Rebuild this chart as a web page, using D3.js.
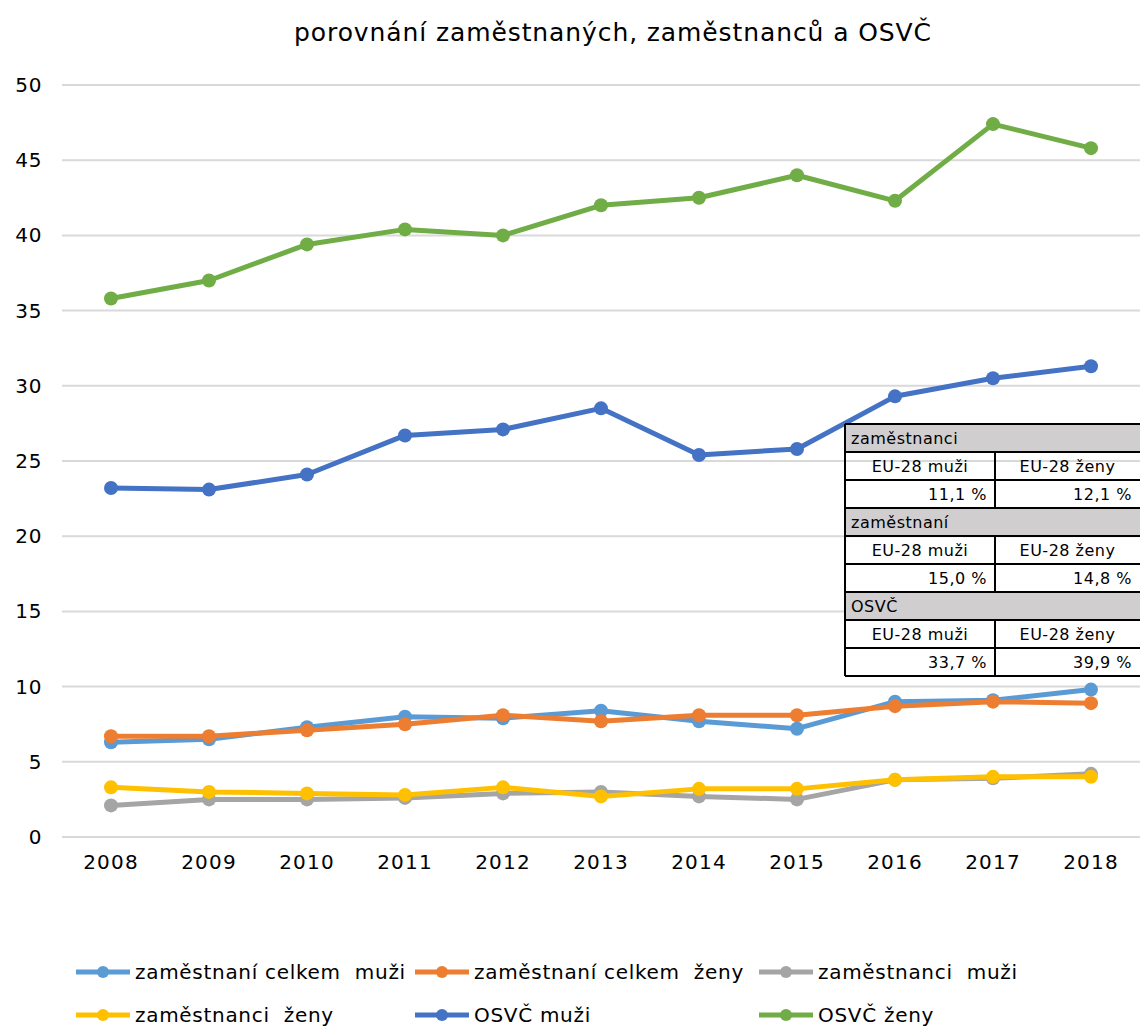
<!DOCTYPE html>
<html>
<head>
<meta charset="utf-8">
<script src="https://cdn.jsdelivr.net/npm/d3@7"></script>
<style>
  body { margin: 0; background: #fff; }
  text { font-family: "DejaVu Sans", Verdana, sans-serif; fill: #000; }
</style>
</head>
<body>
<div class="canvas"></div>
<script>
const dims = { width: 1140, height: 1026 };
const margin = { top: 85, right: 0, bottom: 189, left: 62 };

// data
const years = ['2008', '2009', '2010', '2011', '2012', '2013', '2014', '2015', '2016', '2017', '2018'];
const celkemMuzi = [6.3, 6.5, 7.3, 8.0, 7.9, 8.4, 7.7, 7.2, 9.0, 9.1, 9.8];
const celkemZeny = [6.7, 6.7, 7.1, 7.5, 8.1, 7.7, 8.1, 8.1, 8.7, 9.0, 8.9];
const zamMuzi = [2.1, 2.5, 2.5, 2.6, 2.9, 3.0, 2.7, 2.5, 3.8, 3.9, 4.2];
const zamZeny = [3.3, 3.0, 2.9, 2.8, 3.3, 2.7, 3.2, 3.2, 3.8, 4.0, 4.0];
const osvcMuzi = [23.2, 23.1, 24.1, 26.7, 27.1, 28.5, 25.4, 25.8, 29.3, 30.5, 31.3];
const osvcZeny = [35.8, 37.0, 39.4, 40.4, 40.0, 42.0, 42.5, 44.0, 42.3, 47.4, 45.8];
const yTicks = [0, 5, 10, 15, 20, 25, 30, 35, 40, 45, 50];

const series = [
  { name: 'zaměstnaní celkem  muži', values: celkemMuzi, colour: '#5B9BD5' },
  { name: 'zaměstnaní celkem  ženy', values: celkemZeny, colour: '#ED7D31' },
  { name: 'zaměstnanci  muži', values: zamMuzi, colour: '#A5A5A5' },
  { name: 'zaměstnanci  ženy', values: zamZeny, colour: '#FFC000' },
  { name: 'OSVČ muži', values: osvcMuzi, colour: '#4472C4' },
  { name: 'OSVČ ženy', values: osvcZeny, colour: '#70AD47' }
];

// table in the chart
const tableGroups = ['zaměstnanci', 'zaměstnaní', 'OSVČ'];
const tableCols = ['EU-28 muži', 'EU-28 ženy'];
const tableMuzi = ['11,1 %', '15,0 %', '33,7 %'];
const tableZeny = ['12,1 %', '14,8 %', '39,9 %'];

const svg = d3.select('.canvas')
  .append('svg')
  .attr('width', dims.width)
  .attr('height', dims.height);

const innerW = dims.width - margin.left - margin.right;
const innerH = dims.height - margin.top - margin.bottom;

const x = d3.scaleBand()
  .domain(years)
  .range([margin.left, margin.left + innerW]);

const y = d3.scaleLinear()
  .domain([0, 50])
  .range([margin.top + innerH, margin.top]);

// title
svg.append('text')
  .attr('x', 613)
  .attr('y', 41)
  .attr('text-anchor', 'middle')
  .style('font-size', '25px')
  .style('letter-spacing', '0.9px')
  .text('porovnání zaměstnaných, zaměstnanců a OSVČ');

// gridlines
svg.append('g')
  .selectAll('line')
  .data(yTicks)
  .enter().append('line')
    .attr('x1', margin.left)
    .attr('x2', margin.left + innerW)
    .attr('y1', d => y(d))
    .attr('y2', d => y(d))
    .attr('stroke', '#d9d9d9')
    .attr('stroke-width', 2);

// y axis
const yAxis = d3.axisLeft(y).tickValues(yTicks).tickSize(0).tickPadding(20);
const yG = svg.append('g')
  .attr('transform', `translate(${margin.left}, 0)`)
  .call(yAxis);
yG.select('.domain').remove();
yG.selectAll('text').style('font-size', '20px').style('letter-spacing', '0.6px').attr('fill', '#000');

// x axis
const xAxis = d3.axisBottom(x).tickSize(0).tickPadding(18);
const xG = svg.append('g')
  .attr('transform', `translate(0, ${margin.top + innerH})`)
  .call(xAxis);
xG.select('.domain').remove();
xG.selectAll('text').style('font-size', '20px').style('letter-spacing', '1.2px').attr('fill', '#000');

const cx = (d, i) => x(years[i]) + x.bandwidth() / 2;

const line = d3.line()
  .x((d, i) => cx(d, i))
  .y(d => y(d));

// lines + markers
series.forEach(s => {
  const g = svg.append('g');
  g.append('path')
    .attr('d', line(s.values))
    .attr('fill', 'none')
    .attr('stroke', s.colour)
    .attr('stroke-width', 5)
    .attr('stroke-linejoin', 'round');
  g.selectAll('circle')
    .data(s.values)
    .enter().append('circle')
      .attr('cx', cx)
      .attr('cy', d => y(d))
      .attr('r', 7)
      .attr('fill', s.colour);
});

// table
const tbl = { x: 845, y: 424, w: 295, mid: 995, rh: 28 };
const cellFont = '16px';
let ty = tbl.y;
const tg = svg.append('g');
const cellText = (xx, yy, anchor, txt) => tg.append('text')
  .attr('x', xx).attr('y', yy)
  .attr('text-anchor', anchor)
  .style('font-size', cellFont)
  .style('letter-spacing', '0.5px')
  .text(txt);

tableGroups.forEach((grp, i) => {
  // header row
  tg.append('rect')
    .attr('x', tbl.x).attr('y', ty)
    .attr('width', tbl.w).attr('height', tbl.rh)
    .attr('fill', '#D0CECE');
  cellText(tbl.x + 6, ty + 20, 'start', grp);
  // column header row
  const r1 = ty + tbl.rh;
  tableCols.forEach((c, j) => {
    const x0 = j === 0 ? tbl.x : tbl.mid;
    const x1 = j === 0 ? tbl.mid : tbl.x + tbl.w;
    cellText((x0 + x1) / 2, r1 + 20, 'middle', c);
  });
  const r2 = r1 + tbl.rh;
  cellText(tbl.mid - 8, r2 + 20, 'end', tableMuzi[i]);
  cellText(tbl.x + tbl.w - 8, r2 + 20, 'end', tableZeny[i]);
  // borders
  [ty, r1, r2].forEach(yy => {
    tg.append('line')
      .attr('x1', tbl.x).attr('x2', tbl.x + tbl.w)
      .attr('y1', yy).attr('y2', yy)
      .attr('stroke', '#000').attr('stroke-width', 2);
  });
  tg.append('line')
    .attr('x1', tbl.mid).attr('x2', tbl.mid)
    .attr('y1', r1).attr('y2', r2 + tbl.rh)
    .attr('stroke', '#000').attr('stroke-width', 2);
  ty = r2 + tbl.rh;
});
tg.append('line')
  .attr('x1', tbl.x).attr('x2', tbl.x + tbl.w)
  .attr('y1', ty).attr('y2', ty)
  .attr('stroke', '#000').attr('stroke-width', 2);
tg.append('line')
  .attr('x1', tbl.x).attr('x2', tbl.x)
  .attr('y1', tbl.y).attr('y2', ty)
  .attr('stroke', '#000').attr('stroke-width', 2);

// legend
const legendPos = [
  { x: 76, y: 972 }, { x: 415, y: 972 }, { x: 759, y: 972 },
  { x: 76, y: 1015 }, { x: 415, y: 1015 }, { x: 759, y: 1015 }
];
const lg = svg.append('g');
series.forEach((s, i) => {
  const p = legendPos[i];
  lg.append('line')
    .attr('x1', p.x).attr('x2', p.x + 54)
    .attr('y1', p.y).attr('y2', p.y)
    .attr('stroke', s.colour).attr('stroke-width', 5);
  lg.append('circle')
    .attr('cx', p.x + 27).attr('cy', p.y).attr('r', 6)
    .attr('fill', s.colour);
  lg.append('text')
    .attr('x', p.x + 59).attr('y', p.y + 7)
    .style('font-size', '20px')
    .style('letter-spacing', '0.7px')
    .style('white-space', 'pre')
    .attr('xml:space', 'preserve')
    .text(s.name);
});
</script>
</body>
</html>
